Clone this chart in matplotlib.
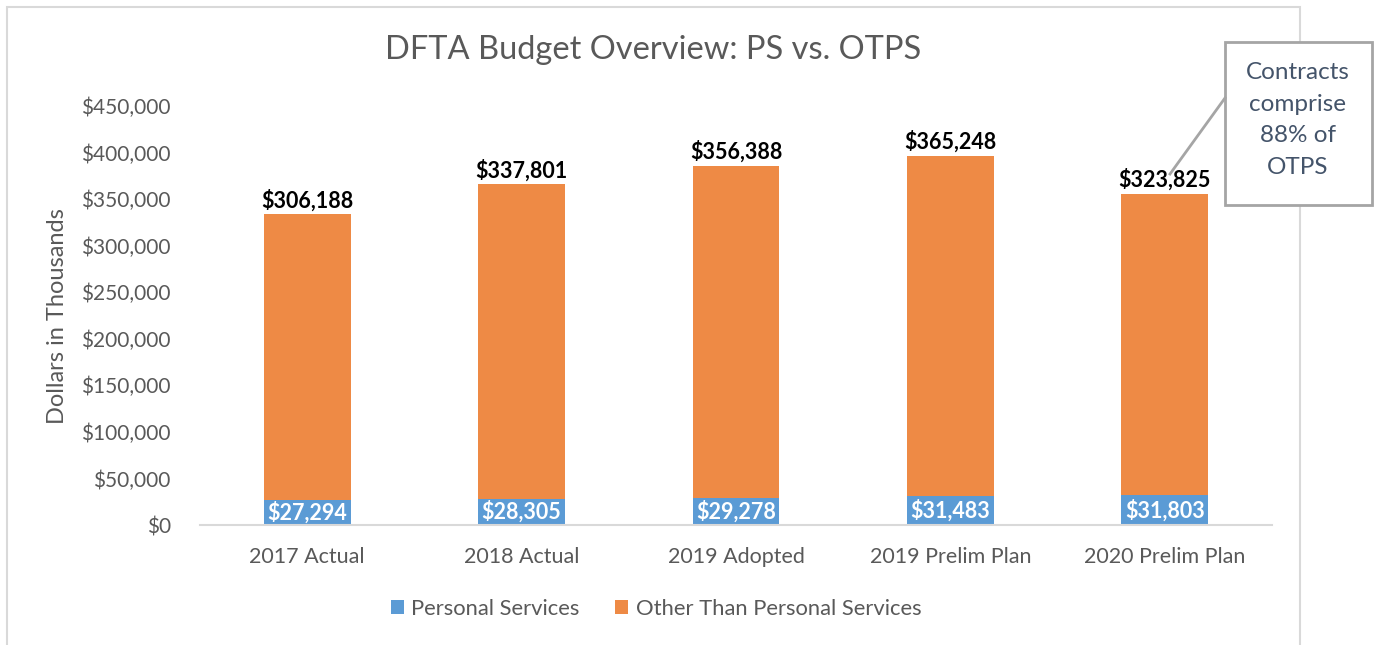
import matplotlib
matplotlib.use("Agg")
import matplotlib.pyplot as plt
from matplotlib.patches import Rectangle, Patch
from matplotlib.lines import Line2D

categories = ["2017 Actual", "2018 Actual", "2019 Adopted", "2019 Prelim Plan", "2020 Prelim Plan"]
ps_values = [27294, 28305, 29278, 31483, 31803]
otps_values = [306188, 337801, 356388, 365248, 323825]
series_names = ["Personal Services", "Other Than Personal Services"]
y_ticks = [0, 50000, 100000, 150000, 200000, 250000, 300000, 350000, 400000, 450000]
title = "DFTA Budget Overview: PS vs. OTPS"
y_label = "Dollars in Thousands"
callout = "Contracts\ncomprise\n88% of\nOTPS"

plt.rcParams['font.family'] = ['Lato', 'DejaVu Sans']
W, H = 1377, 645
fig = plt.figure(figsize=(W / 100, H / 100), dpi=100)

def fx(px):
    return px / W

def fy(py):
    return 1 - py / H

blue = "#5B9BD5"
orange = "#EE8A45"
gray_text = "#595959"
frame_col = "#D9D9D9"

# outer chart frame
fig.add_artist(Rectangle((fx(7), fy(700)), fx(1300) - fx(7), fy(7) - fy(700),
                         transform=fig.transFigure, fill=False, edgecolor=frame_col,
                         linewidth=1.5, clip_on=False))

ax = fig.add_axes([fx(200), fy(525), fx(1272) - fx(200), fy(106) - fy(525)])
x = list(range(len(categories)))
bw = 0.405
ax.bar(x, ps_values, width=bw, color=blue, zorder=2)
ax.bar(x, otps_values, width=bw, bottom=ps_values, color=orange, zorder=2)
ax.set_xlim(-0.5, len(categories) - 0.5)
ax.set_ylim(0, 450000)
ax.set_yticks(y_ticks)
ax.set_yticklabels([f"${v:,.0f}" for v in y_ticks], fontsize=15, color=gray_text)
ax.set_xticks(x)
ax.set_xticklabels(categories, fontsize=15.5, color=gray_text)
ax.tick_params(axis='y', length=0, pad=21)
ax.tick_params(axis='x', length=0, pad=16)
for s in ["top", "right", "left"]:
    ax.spines[s].set_visible(False)
ax.spines["bottom"].set_color(frame_col)
ax.spines["bottom"].set_linewidth(1.5)

for i in x:
    ax.text(i, ps_values[i] / 2, f"${ps_values[i]:,.0f}", ha="center", va="center",
            color="white", fontsize=15.5, fontweight="bold", zorder=3)
    ax.annotate(f"${otps_values[i]:,.0f}", (i, ps_values[i] + otps_values[i]),
                xytext=(0, 2), textcoords="offset points", ha="center", va="bottom",
                color="black", fontsize=15.5, fontweight="bold", zorder=3)

fig.text(fx(653), fy(50), title, ha="center", va="center", fontsize=23.5, color=gray_text)
fig.text(fx(58), fy(316), y_label, ha="center", va="center", rotation=90,
         fontsize=17, color=gray_text)

handles = [Patch(facecolor=blue), Patch(facecolor=orange)]
fig.legend(handles, series_names, loc="center", bbox_to_anchor=(fx(656), fy(609)),
           ncol=2, frameon=False, fontsize=15.8, labelcolor=gray_text,
           handlelength=0.6, handleheight=0.6, handletextpad=0.35, columnspacing=1.6)

# callout
fig.add_artist(Line2D([fx(1170), fx(1225)], [fy(174), fy(98)], transform=fig.transFigure,
                      color="#A5A5A5", linewidth=2))
fig.add_artist(Rectangle((fx(1225), fy(205)), fx(1372) - fx(1225), fy(42) - fy(205),
                         transform=fig.transFigure, facecolor="white", edgecolor="#A5A5A5",
                         linewidth=2, clip_on=False))
fig.text(fx(1298), fy(120), callout, ha="center", va="center", fontsize=17.5,
         color="#44546A", linespacing=1.62)

fig.savefig("out.png", dpi=100)
